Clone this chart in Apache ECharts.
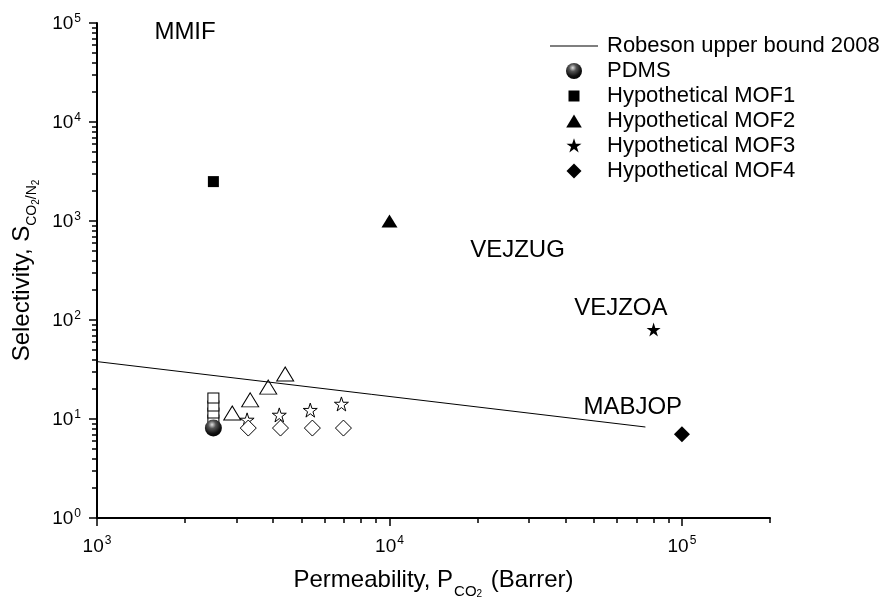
<!DOCTYPE html>
<html>
<head>
<meta charset="utf-8">
<script src="https://cdn.jsdelivr.net/npm/echarts@6/dist/echarts.min.js"></script>
<style>html,body{margin:0;padding:0;background:#fff}#c{width:889px;height:600px}</style>
</head>
<body>
<div id="c"></div>
<script>
// ---- data ----
const robesonX = [1000, 75000];
const robesonY = [38, 8.3];
const pdms = [[2500, 8.1]];
const mof1 = [[2500, 2500]];
const mof2 = [[10000, 1000]];
const mof3 = [[80000, 80]];
const mof4 = [[100000, 7]];
const openSquares = [[2500, 9.8], [2500, 11.5], [2500, 13.5], [2500, 16.3]];
const openTriangles = [[2900, 11.5], [3340, 15.6], [3850, 21.0], [4400, 28.5]];
const openStars = [[3260, 9.8], [4200, 11.0], [5360, 12.3], [6850, 14.2]];
const openDiamonds = [[3290, 8.1], [4240, 8.1], [5450, 8.1], [6960, 8.1]];
const annotations = [[2000, 80000, 'MMIF'], [27400, 509, 'VEJZUG'], [61800, 132, 'VEJZOA'], [67900, 13.2, 'MABJOP']];
const xMajorTicks = [1000, 10000, 100000];
const xMinorTicks = [2000, 3000, 4000, 5000, 6000, 7000, 8000, 9000, 20000, 30000, 40000, 50000, 60000, 70000, 80000, 90000, 200000];
const yMajorTicks = [1, 10, 100, 1000, 10000, 100000];
const yMinorTicks = [2, 3, 4, 5, 6, 7, 8, 9, 20, 30, 40, 50, 60, 70, 80, 90, 200, 300, 400, 500, 600, 700, 800, 900,
  2000, 3000, 4000, 5000, 6000, 7000, 8000, 9000, 20000, 30000, 40000, 50000, 60000, 70000, 80000, 90000];
const legendNames = ['Robeson upper bound 2008', 'PDMS', 'Hypothetical MOF1', 'Hypothetical MOF2', 'Hypothetical MOF3', 'Hypothetical MOF4'];

const FONT = '"Liberation Sans", Arial, Helvetica, sans-serif';
const STAR = 'path://M50,0 L61.8,35.1 L98.9,35.1 L68.8,56.7 L80.2,91.9 L50,70 L19.8,91.9 L31.2,56.7 L1.1,35.1 L38.2,35.1 Z';
const legendIcons = [
  'path://M0,0 L48,0 L48,1.1 L0,1.1 Z',
  'circle',
  'path://M0,0 M16,16 M2.5,2.5 L13.5,2.5 L13.5,13.5 L2.5,13.5 Z',
  'path://M0,0 M16,16 M8,1.5 L15.8,14.5 L0.2,14.5 Z',
  'path://M-2,-2 M102,102 M50,0 L61.8,35.1 L98.9,35.1 L68.8,56.7 L80.2,91.9 L50,70 L19.8,91.9 L31.2,56.7 L1.1,35.1 L38.2,35.1 Z',
  'path://M0,0 M16,16 M8,0.5 L15.5,8 L8,15.5 L0.5,8 Z'
];
const powLabel = v => '{b|10}{s|' + Math.round(Math.log10(v)) + '}';
const tickRich = {
  b: { fontSize: 19, fontFamily: FONT, color: '#000', verticalAlign: 'bottom', padding: [0, 0, 0, 0] },
  s: { fontSize: 12, fontFamily: FONT, color: '#000', verticalAlign: 'bottom', padding: [0, 0, 9, 1] }
};
const ballColor = { type: 'radial', x: 0.42, y: 0.3, r: 0.75, colorStops: [
  { offset: 0, color: '#e0e0e0' }, { offset: 0.3, color: '#555' }, { offset: 0.7, color: '#111' }, { offset: 1, color: '#000' }] };
const hollow = { color: '#fff', borderColor: '#000', borderWidth: 1, opacity: 1 };
const solid = { color: '#000', opacity: 1 };

const chart = echarts.init(document.getElementById('c'), null, { renderer: 'canvas' });
const baseX = { type: 'log', logBase: 10, min: 1000, max: 200000, gridIndex: 0, position: 'bottom', splitLine: { show: false } };
const baseY = { type: 'log', logBase: 10, min: 1, max: 100000, gridIndex: 0, position: 'left', splitLine: { show: false } };
chart.setOption({
  animation: false,
  backgroundColor: '#fff',
  grid: { left: 97, right: 119, top: 23, bottom: 82, containLabel: false, outerBoundsMode: 'none' },
  legend: {
    data: legendNames.map((n, i) => ({ name: n, icon: legendIcons[i] })),
    orient: 'vertical', left: 545, top: 30, itemWidth: 48, itemHeight: 16, itemGap: 3,
    textStyle: { fontSize: 22, fontFamily: FONT, color: '#000', padding: [0, 0, 0, 4] },
    selectedMode: false
  },
  xAxis: [
    Object.assign({}, baseX, {
      axisLine: { show: true, lineStyle: { color: '#000', width: 2 } },
      axisTick: { show: true, length: 8, lineStyle: { color: '#000', width: 1.5 }, customValues: xMajorTicks },
      axisLabel: { show: true, margin: 17, formatter: powLabel, rich: tickRich, customValues: xMajorTicks },
      name: '{a|Permeability, P}{s|CO}{t|2}{a| (Barrer)}',
      nameLocation: 'middle', nameGap: 50,
      nameTextStyle: { rich: {
        a: { fontSize: 24, fontFamily: FONT, color: '#000', verticalAlign: 'bottom', padding: [0, 0, 7, 0] },
        s: { fontSize: 15, fontFamily: FONT, color: '#000', verticalAlign: 'bottom', padding: [0, 0, 0, 1] },
        t: { fontSize: 10, fontFamily: FONT, color: '#000', verticalAlign: 'bottom', padding: [0, 2, 0, 0] }
      } }
    }),
    Object.assign({}, baseX, {
      axisLine: { show: false },
      axisTick: { show: true, length: 5, lineStyle: { color: '#000', width: 1.5 }, customValues: xMinorTicks },
      axisLabel: { show: false }
    })
  ],
  yAxis: [
    Object.assign({}, baseY, {
      axisLine: { show: true, lineStyle: { color: '#000', width: 2 } },
      axisTick: { show: true, length: 8, lineStyle: { color: '#000', width: 1.5 }, customValues: yMajorTicks },
      axisLabel: { show: true, margin: 16, formatter: powLabel, rich: tickRich, customValues: yMajorTicks },
      name: '{a|Selectivity, S}{s|CO}{t|2}{s|/N}{t|2}',
      nameLocation: 'middle', nameGap: 52, nameRotate: 90,
      nameTextStyle: { rich: {
        a: { fontSize: 24, fontFamily: FONT, color: '#000', verticalAlign: 'bottom', padding: [0, 0, 7, 0] },
        s: { fontSize: 14, fontFamily: FONT, color: '#000', verticalAlign: 'bottom', padding: [0, 0, 2, 0] },
        t: { fontSize: 10, fontFamily: FONT, color: '#000', verticalAlign: 'bottom', padding: [0, 0, 0, 0] }
      } }
    }),
    Object.assign({}, baseY, {
      axisLine: { show: false },
      axisTick: { show: true, length: 5, lineStyle: { color: '#000', width: 1.5 }, customValues: yMinorTicks },
      axisLabel: { show: false }
    })
  ],
  series: [
    { name: 'Robeson upper bound 2008', type: 'line', xAxisIndex: 0, yAxisIndex: 0,
      data: robesonX.map((x, i) => [x, robesonY[i]]), symbol: 'none', showSymbol: false,
      lineStyle: { color: '#000', width: 1 }, itemStyle: { color: '#000' } },
    { name: 'openSquares', type: 'scatter', data: openSquares, symbol: 'rect', symbolSize: [11, 10], itemStyle: hollow },
    { name: 'openTriangles', type: 'scatter', data: openTriangles, symbol: 'triangle', symbolSize: [17, 14], itemStyle: hollow },
    { name: 'openStars', type: 'scatter', data: openStars, symbol: STAR, symbolSize: 14, itemStyle: hollow },
    { name: 'openDiamonds', type: 'scatter', data: openDiamonds, symbol: 'diamond', symbolSize: 16, itemStyle: hollow },
    { name: 'PDMS', type: 'scatter', data: pdms, symbol: 'circle', symbolSize: 17, itemStyle: { color: ballColor, opacity: 1 } },
    { name: 'Hypothetical MOF1', type: 'scatter', data: mof1, symbol: 'rect', symbolSize: 11, itemStyle: solid },
    { name: 'Hypothetical MOF2', type: 'scatter', data: mof2, symbol: 'triangle', symbolSize: [16, 13], itemStyle: solid },
    { name: 'Hypothetical MOF3', type: 'scatter', data: mof3, symbol: STAR, symbolSize: 14, itemStyle: solid },
    { name: 'Hypothetical MOF4', type: 'scatter', data: mof4, symbol: 'diamond', symbolSize: 16, itemStyle: solid },
    { name: 'annotations', type: 'scatter', data: annotations, symbolSize: 0, silent: true, itemStyle: { opacity: 1 },
      label: { show: true, position: 'inside', formatter: p => p.value[2], fontSize: 24, fontFamily: FONT, color: '#000' } }
  ]
});
</script>
</body>
</html>
